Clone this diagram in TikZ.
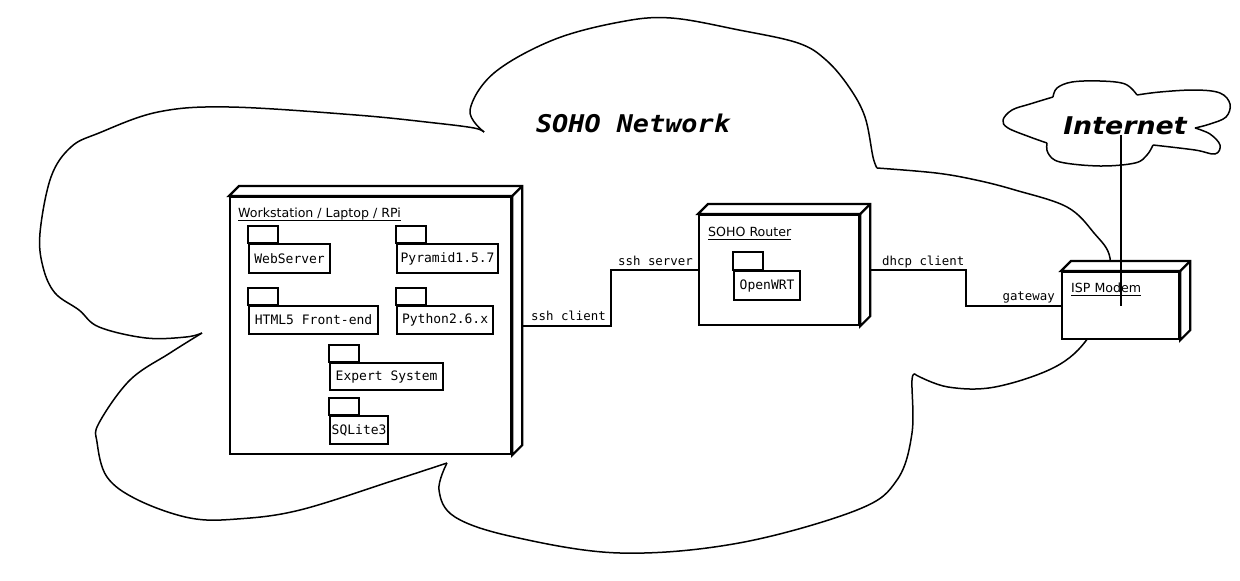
\documentclass[tikz,border=0pt]{standalone}
\usepackage{fontspec}
\setmainfont{DejaVu Sans}
\setmonofont{DejaVu Sans Mono}
\newfontfamily\bigsans{DejaVu Sans}[FakeStretch=1.1]
\newfontfamily\bigmono{DejaVu Sans Mono}[FakeStretch=1.1]
\usepackage{tikz}
\usetikzlibrary{calc}
\newcommand{\nodetitle}[1]{\setbox0=\hbox{#1}\rlap{\rule[-3.5pt]{\wd0}{1pt}}\box0}
\newcommand{\drawdepth}[1]{%
  \draw[devline, fill=white] (#1.north west) -- ++(10,-10) -- ([shift={(10,-10)}]#1.north east)
    -- ([shift={(10,-10)}]#1.south east) -- (#1.south east) -- (#1.north east) -- cycle;
  \draw[devline] (#1.north east) -- ++(10,-10);}

\begin{document}
\begin{tikzpicture}[x=1pt, y=-1pt,
  devline/.style={line width=2.2pt, line join=miter},
  dev/.style={devline, draw, fill=white, anchor=north west, inner sep=0pt},
  ttl/.style={anchor=base west, inner sep=0pt, font=\fontsize{12.6}{14}\selectfont},
  pkg/.style={devline, draw, fill=white, anchor=north west, inner xsep=1pt,
              minimum height=28pt, font=\ttfamily\fontsize{13}{15}\selectfont},
  tab/.style={devline, draw, fill=white},
  lnk/.style={line width=2.2pt},
  lbl/.style={inner sep=0pt, font=\ttfamily\fontsize{12.4}{14}\selectfont},
  cloudline/.style={line width=1.5pt, line join=round},
  big/.style={inner sep=0pt, anchor=base, font=\bfseries\itshape\fontsize{24.4}{28}\selectfont},
]
\useasboundingbox (0,0) rectangle (1240,581);
\draw[cloudline] plot[smooth, tension=.6] coordinates {(484,132) (474,128) (435,123) (356,115) (229,107) (158,112) (99,133) (71,147) (51,177) (40,233) (43,267) (55,293) (79,310) (99,327) (146,338) (186,337) (202,333)};
\draw[cloudline] plot[smooth, tension=.6] coordinates {(202,333) (170,353) (130,380) (99,423) (97,442) (107,477) (138,500) (190,518) (237,519) (300,510) (395,480) (447,463)};
\draw[cloudline] plot[smooth, tension=.6] coordinates {(447,463) (439,490) (455,517) (514,537) (620,553) (739,543) (857,510) (897,480) (912,433) (912,380) (916,375)};
\draw[cloudline] plot[smooth, tension=.6] coordinates {(916,375) (948,387) (995,387) (1055,367) (1088,338) (1105,298) (1110,258) (1094,233) (1067,207) (1015,190) (976,180) (936,173) (877,168)};
\draw[cloudline] plot[smooth, tension=.6] coordinates {(877,168) (873,157) (865,117) (849,87) (826,60) (798,43) (739,30) (671,18) (620,22) (553,40) (494,73) (470,110) (484,132)};
\draw[cloudline] plot[smooth, tension=.6] coordinates {(1047,143) (1030,137) (1008,128) (1003,120) (1012,110) (1030,104) (1053,97)};
\draw[cloudline] plot[smooth, tension=.6] coordinates {(1053,97) (1057,88) (1072,82) (1100,81) (1125,84) (1137,95)};
\draw[cloudline] plot[smooth, tension=.6] coordinates {(1137,95) (1160,92) (1195,90) (1220,93) (1230,104) (1226,117) (1210,124) (1195,128)};
\draw[cloudline] plot[smooth, tension=.6] coordinates {(1195,128) (1210,134) (1220,145) (1215,154) (1195,150) (1153,145)};
\draw[cloudline] plot[smooth, tension=.6] coordinates {(1153,145) (1147,155) (1135,163) (1100,166) (1060,162) (1048,153) (1047,143)};
\node[big] (soho) at (633,132) {\bigmono SOHO Network};
\node[big] (inet) at (1125,134) {\bigsans Internet};
\node[dev, minimum width=281pt, minimum height=257pt] (ws) at (229,196) {};
\drawdepth{ws}
\node[ttl] (ws-t) at ([shift={(9,21.5)}]ws.north west) {\nodetitle{Workstation / Laptop / RPi}};
\node[pkg, minimum width=81pt, minimum height=29pt] (web) at (248,243) {WebServer};
\node[pkg, minimum width=101pt, minimum height=29pt] (pyr) at (396,243) {Pyramid1.5.7};
\node[pkg, minimum width=129pt] (html) at (248,305) {HTML5 Front-end};
\node[pkg, minimum width=96pt] (py) at (396,305) {Python2.6.x};
\node[pkg, minimum width=113pt, minimum height=27pt] (exp) at (329,362) {Expert System};
\node[pkg, minimum width=58pt] (sql) at (329,415) {SQLite3};
\foreach \p in {web,pyr,html,py,exp,sql} \draw[tab] (\p.north west) rectangle ++(30,-17);
\node[dev, minimum width=160pt, minimum height=110pt] (router) at (698,214) {};
\drawdepth{router}
\node[ttl] (router-t) at ([shift={(10,22)}]router.north west) {\nodetitle{SOHO Router}};
\node[pkg, minimum width=66pt, minimum height=29pt] (wrt) at (733,270) {OpenWRT};
\draw[tab] (wrt.north west) rectangle ++(30,-18);
\node[dev, minimum width=117pt, minimum height=67pt] (modem) at (1061,271) {};
\drawdepth{modem}
\node[ttl] (modem-t) at ([shift={(10,21)}]modem.north west) {\nodetitle{ISP Modem}};
\draw[lnk] ([xshift=10pt]ws.east) -- ++(89,0) |- (router.west);
\node[lbl, anchor=base east] (sshc) at (606,320) {ssh client};
\node[lbl, anchor=base east] (sshs) at (693,265) {ssh server};
\draw[lnk] ([xshift=10pt]router.east) -- ++(96,0) |- (modem.west);
\node[lbl, anchor=base west] (dhcp) at (882,265) {dhcp client};
\node[lbl, anchor=base east] (gw) at (1055,300) {gateway};
\draw[lnk] (modem.center |- inet.south) -- (modem.center);
\end{tikzpicture}
\end{document}
